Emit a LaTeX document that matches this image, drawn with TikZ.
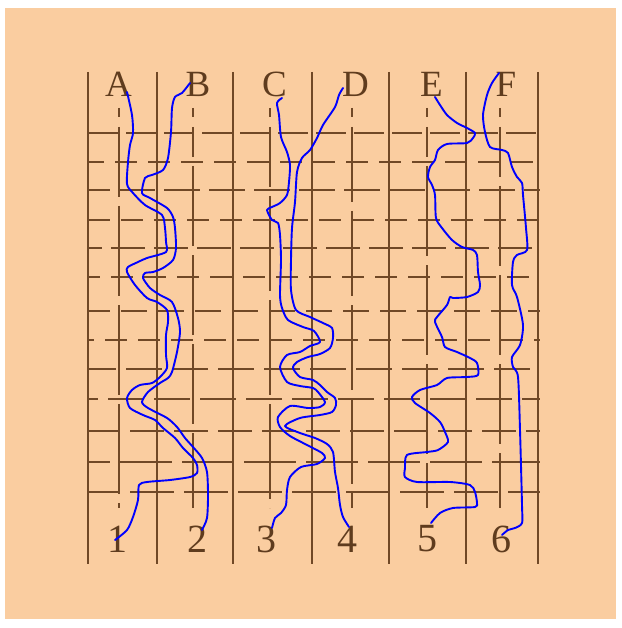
\documentclass[tikz,border=0pt]{standalone}
\usepackage{fontspec}
\setmainfont{Liberation Serif}
\definecolor{peach}{RGB}{250,205,160}
\definecolor{weave}{RGB}{112,72,38}
\definecolor{ink}{RGB}{95,60,30}

\begin{document}
\begin{tikzpicture}[x=1pt, y=-1pt,
    thread/.style={color=weave, line width=2.8pt},
    letter/.style={inner sep=0pt, text=ink, font=\fontsize{37}{37}\selectfont},
    digit/.style={inner sep=0pt, text=ink, font=\fontsize{40}{40}\selectfont},
    route/.style={color=blue, line width=1.9pt, line join=round, line cap=round}]
    % Background
    \useasboundingbox (0,0) rectangle (621,628);
    \fill[white] (0,0) rectangle (621,628);
    \fill[peach] (5,8) rectangle (616,619);

    % Draw the woven grid: rows
    \draw[thread, dash pattern=on 30pt off 8pt] (88,133) -- (540,133);
    \draw[thread, dash pattern=on 22pt off 11pt, dash phase=6pt] (88,162) -- (540,162);
    \draw[thread, dash pattern=on 36pt off 9pt, dash phase=14pt] (88,190) -- (540,190);
    \draw[thread, dash pattern=on 22pt off 11pt] (88,220) -- (540,220);
    \draw[thread, dash pattern=on 34pt off 9pt, dash phase=20pt] (88,248) -- (540,248);
    \draw[thread, dash pattern=on 22pt off 11pt, dash phase=10pt] (88,277) -- (540,277);
    \draw[thread, dash pattern=on 26pt off 11pt, dash phase=4pt] (88,311) -- (540,311);
    \draw[thread, dash pattern=on 22pt off 11pt, dash phase=16pt] (88,340) -- (540,340);
    \draw[thread, dash pattern=on 36pt off 10pt, dash phase=8pt] (88,369) -- (540,369);
    \draw[thread, dash pattern=on 36pt off 10pt, dash phase=26pt] (88,399) -- (540,399);
    \draw[thread, dash pattern=on 34pt off 10pt, dash phase=2pt] (88,431) -- (540,431);
    \draw[thread, dash pattern=on 52pt off 10pt, dash phase=30pt] (88,462) -- (540,462);
    \draw[thread, dash pattern=on 44pt off 10pt, dash phase=12pt] (88,492) -- (540,492);

    % Long posts
    \draw[thread] (88,72) -- (88,564);
    \draw[thread] (157,72) -- (157,564);
    \draw[thread] (233,72) -- (233,564);
    \draw[thread] (312,72) -- (312,564);
    \draw[thread] (389,72) -- (389,564);
    \draw[thread] (466,72) -- (466,564);
    \draw[thread] (538,72) -- (538,564);

    % Short posts under the letters
    \draw[thread] (119,108) -- (119,117);
    \draw[thread, dash pattern=on 90pt off 9pt, dash phase=20pt] (119,127) -- (119,508);
    \draw[thread] (193,108) -- (193,117);
    \draw[thread, dash pattern=on 80pt off 9pt, dash phase=50pt] (193,127) -- (193,508);
    \draw[thread] (270,108) -- (270,117);
    \draw[thread, dash pattern=on 95pt off 9pt, dash phase=35pt] (270,127) -- (270,508);
    \draw[thread] (352,108) -- (352,117);
    \draw[thread, dash pattern=on 85pt off 9pt, dash phase=10pt] (352,127) -- (352,508);
    \draw[thread] (427,108) -- (427,117);
    \draw[thread, dash pattern=on 90pt off 9pt, dash phase=60pt] (427,127) -- (427,508);
    \draw[thread] (500,108) -- (500,117);
    \draw[thread, dash pattern=on 80pt off 9pt, dash phase=30pt] (500,127) -- (500,508);

    % Letters and numbers
    \node[letter] (A) at (118.5,84.5) {A};
    \node[letter] (B) at (198,84.5) {B};
    \node[letter] (C) at (274.5,84.5) {C};
    \node[letter] (D) at (355.5,84.5) {D};
    \node[letter] (E) at (431.5,84.5) {E};
    \node[letter] (F) at (506,84.5) {F};
    \node[digit] (n1) at (117,539) {1};
    \node[digit] (n2) at (197.5,539) {2};
    \node[digit] (n3) at (266.5,539) {3};
    \node[digit] (n4) at (347,539) {4};
    \node[digit] (n5) at (427.5,539) {5};
    \node[digit] (n6) at (501,539) {6};

    % A to 1
    \draw[route] plot[smooth, tension=0.45] coordinates {([xshift=8.5pt,yshift=-7.5pt]A.center)
        (132,115) (133,133) (130,145) (128,162) (127,184) (133,193) (145,205) (162,215)
        (165,228) (166,242) (166,252) (147,258) (138,262) (128,267) (127,272) (135,285)
        (147,298) (157,302) (167,310) (168,322) (166,335) (166,355) (167,368) (160,377)
        (152,383) (140,385) (132,390) (127,398) (130,408) (143,415) (155,420) (163,428)
        (175,438) (183,448) (193,458) (197,465) (197,473) (190,477) (170,480) (147,482)
        (139,485) (138,500) (133,517) (127,530) ([xshift=-2pt,yshift=-1pt]n1.center)};

    % B to 2
    \draw[route] plot[smooth, tension=0.45] coordinates {([xshift=-8pt,yshift=1.5pt]B.center)
        (182,93) (175,97) (172,108) (171,132) (168,158) (163,170) (152,175) (145,178)
        (142,193) (150,198) (167,208) (173,217) (175,228) (176,248) (173,260) (163,268)
        (153,272) (145,273) (143,278) (150,288) (160,295) (172,302) (178,318) (180,332)
        (177,352) (172,372) (168,378) (160,383) (148,392) (142,402) (148,408) (167,418)
        (177,427) (185,438) (193,447) (202,458) (207,472) (208,495) (207,518)
        ([xshift=4.5pt,yshift=9pt]n2.center)};

    % C to 3
    \draw[route] plot[smooth, tension=0.45] coordinates {([xshift=7.5pt,yshift=-13.5pt]C.center)
        (277,103) (279,115) (281,137) (287,152) (290,165) (289,182) (287,195) (280,203)
        (272,207) (267,210) (272,220) (278,223) (280,235) (281,260) (280,295) (282,308)
        (288,320) (303,327) (314,331) (320,342) (310,346) (300,352) (287,355) (280,367)
        (287,382) (300,386) (313,388) (318,392) (325,402) (320,407) (308,408) (290,406)
        (278,417) (280,427) (290,436) (309,446) (322,453) (325,458) (317,464) (301,467)
        (290,477) (287,490) (286,505) (281,513) (275,518) ([xshift=5.5pt,yshift=11pt]n3.center)};

    % D to 4
    \draw[route] plot[smooth, tension=0.45] coordinates {([xshift=-12.5pt,yshift=-3.5pt]D.center)
        (339,95) (335,107) (323,125) (317,138) (310,150) (302,158) (297,172) (295,202)
        (292,228) (291,260) (291,290) (296,310) (310,317) (323,323) (332,328) (333,338)
        (330,348) (320,354) (308,357) (297,362) (293,368) (300,377) (313,380) (320,385)
        (327,392) (335,398) (336,405) (332,412) (320,415) (300,418) (285,426) (300,433)
        (315,438) (327,444) (333,452) (335,472) (338,488) (340,505) (343,517)
        ([xshift=2pt,yshift=12pt]n4.center)};

    % E to 5
    \draw[route] plot[smooth, tension=0.45] coordinates {([xshift=3.5pt,yshift=-12.5pt]E.center)
        (440,105) (447,115) (457,123) (467,128) (475,133) (473,138) (467,143) (447,144)
        (438,150) (435,160) (430,167) (428,177) (432,185) (435,195) (436,218) (442,228)
        (452,240) (462,247) (473,250) (477,255) (478,272) (480,285) (478,292) (467,297)
        (453,298) (450,297) (447,305) (437,317) (435,322) (442,337) (445,347) (457,352)
        (470,358) (477,363) (478,375) (467,377) (447,378) (437,385) (420,390) (412,397)
        (415,403) (430,413) (440,422) (445,432) (448,442) (438,450) (427,452) (407,455)
        (405,468) (405,477) (417,482) (450,482) (470,485) (475,492) (477,503) (475,507)
        (453,508) (440,513) ([xshift=3.5pt,yshift=16pt]n5.center)};

    % F to 6
    \draw[route] plot[smooth, tension=0.45] coordinates {([xshift=-7pt,yshift=11.5pt]F.center)
        (492,83) (487,95) (483,115) (485,132) (490,147) (502,150) (508,153) (512,167)
        (517,177) (522,183) (523,195) (526,228) (527,250) (517,255) (513,262) (512,285)
        (517,297) (523,325) (520,345) (512,357) (513,367) (518,377) (520,430) (522,505)
        (522,523) (515,528) (508,530) ([xshift=1pt,yshift=4pt]n6.center)};
\end{tikzpicture}
\end{document}
